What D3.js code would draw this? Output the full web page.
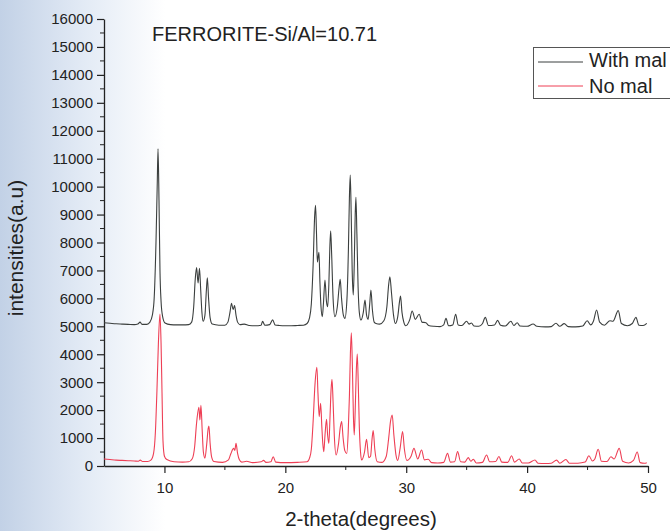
<!DOCTYPE html>
<html>
<head>
<meta charset="utf-8">
<script src="https://cdn.jsdelivr.net/npm/d3@7"></script>
<style>
  body { margin: 0; background: #fff; }
  svg { display: block; font-family: "Liberation Sans", Arial, sans-serif; }
</style>
</head>
<body>
<svg id="chart" width="670" height="531"></svg>
<script>
// [2-theta, intensity]
const withMal = [[5.0,5130],[5.5,5110],[6.0,5090],[6.5,5080],[7.0,5070],[7.5,5060],[7.8,5080],[7.98,5150],[8.15,5070],[8.55,5070],[8.8,5150],[9.0,5400],[9.15,6000],[9.3,8000],[9.4,10000],[9.47,11350],[9.55,9500],[9.63,7000],[9.72,5900],[9.85,5350],[10.05,5120],[10.5,5060],[11.0,5050],[11.5,5050],[12.0,5060],[12.25,5150],[12.42,5700],[12.55,6700],[12.66,7100],[12.78,6550],[12.9,7080],[13.0,6300],[13.1,5500],[13.2,5180],[13.35,5400],[13.47,6300],[13.55,6740],[13.65,6000],[13.78,5300],[13.95,5080],[14.5,5040],[15.0,5040],[15.25,5150],[15.42,5500],[15.55,5820],[15.68,5600],[15.8,5740],[15.92,5400],[16.05,5150],[16.25,5060],[16.6,5080],[17.0,5030],[17.5,5020],[18.0,5040],[18.12,5180],[18.3,5040],[18.7,5060],[18.95,5230],[19.15,5050],[19.5,5030],[20,5020],[20.5,5020],[21.0,5030],[21.5,5040],[21.8,5100],[22.0,5300],[22.15,5800],[22.3,7200],[22.42,8900],[22.5,9330],[22.58,8300],[22.65,7300],[22.72,7500],[22.78,7650],[22.86,6600],[22.95,5700],[23.06,5345],[23.15,5800],[23.28,6660],[23.4,5900],[23.5,5700],[23.6,6500],[23.68,7800],[23.75,8420],[23.83,7600],[23.95,6000],[24.1,5345],[24.3,5700],[24.45,6400],[24.54,6680],[24.65,6000],[24.8,5400],[24.93,5285],[25.1,6000],[25.22,7800],[25.3,9600],[25.37,10415],[25.45,9000],[25.53,7000],[25.62,6120],[25.7,7200],[25.78,9000],[25.84,9615],[25.92,8300],[26.02,6400],[26.12,5500],[26.25,5225],[26.45,5500],[26.59,5940],[26.72,5400],[26.85,5250],[26.98,5800],[27.08,6300],[27.2,5600],[27.35,5150],[27.5,5100],[27.8,5080],[28.15,5200],[28.4,5700],[28.55,6500],[28.65,6775],[28.78,6200],[28.95,5400],[29.1,5100],[29.3,5350],[29.45,5900],[29.53,6085],[29.65,5500],[29.8,5150],[29.95,5020],[30.3,5250],[30.49,5547],[30.75,5250],[31.07,5430],[31.3,5150],[31.63,5130],[31.85,5030],[32.3,5000],[32.8,4990],[33.1,5050],[33.29,5285],[33.5,5020],[33.85,5050],[34.09,5430],[34.3,5050],[34.6,5030],[35.0,5180],[35.2,5080],[35.4,5120],[35.6,5010],[36.0,5000],[36.3,5090],[36.54,5320],[36.8,5030],[37.3,5050],[37.56,5213],[37.8,5040],[38.2,5010],[38.66,5180],[38.9,5030],[39.18,5130],[39.4,5010],[40.0,5000],[40.5,5082],[40.8,5000],[41.5,4980],[42.0,4990],[42.39,5107],[42.7,5000],[43.07,5095],[43.4,4990],[44.0,4980],[44.6,5010],[44.97,5200],[45.25,5050],[45.5,5200],[45.75,5583],[46.0,5150],[46.4,5040],[46.85,5200],[47.1,5180],[47.54,5560],[47.8,5100],[48.3,5020],[48.7,5100],[49.0,5320],[49.25,5040],[49.6,5030],[49.9,5107]];

const noMal = [[5.0,250],[5.5,230],[6.0,210],[6.5,200],[7.0,190],[7.5,180],[7.85,170],[8.0,210],[8.2,160],[8.6,160],[8.9,220],[9.1,450],[9.25,1200],[9.38,2700],[9.5,4400],[9.63,5440],[9.72,4400],[9.8,2600],[9.88,900],[10.0,350],[10.2,230],[10.8,150],[11.5,140],[12.0,150],[12.3,260],[12.5,700],[12.65,1500],[12.85,2100],[12.93,1645],[13.02,2170],[13.12,1300],[13.22,500],[13.35,280],[13.5,800],[13.62,1350],[13.68,1430],[13.78,800],[13.9,330],[14.1,160],[14.8,130],[15.3,220],[15.5,450],[15.72,630],[15.82,560],[15.92,810],[16.05,450],[16.2,220],[16.4,140],[16.8,170],[17.3,120],[18.0,150],[18.2,200],[18.4,130],[18.8,150],[19.0,333],[19.2,140],[20.0,120],[21.0,130],[21.8,150],[22.0,280],[22.15,600],[22.3,1600],[22.45,2900],[22.61,3530],[22.7,2600],[22.8,1765],[22.92,2245],[23.02,1400],[23.1,800],[23.18,513],[23.28,1100],[23.41,1670],[23.5,1100],[23.6,810],[23.7,1800],[23.78,2700],[23.86,3100],[23.95,2300],[24.05,1100],[24.2,393],[24.4,800],[24.55,1400],[24.66,1587],[24.78,1000],[24.92,550],[25.08,450],[25.2,1200],[25.3,2500],[25.38,4000],[25.46,4770],[25.55,3500],[25.63,1800],[25.7,1110],[25.78,2000],[25.87,3400],[25.95,4010],[26.03,3000],[26.12,1400],[26.22,500],[26.3,215],[26.55,500],[26.72,955],[26.9,300],[27.05,350],[27.18,1000],[27.27,1265],[27.4,600],[27.6,155],[28.0,130],[28.35,350],[28.55,1000],[28.7,1600],[28.84,1825],[28.98,1100],[29.15,400],[29.3,200],[29.5,650],[29.7,1230],[29.85,600],[30.05,200],[30.4,350],[30.64,630],[30.95,250],[31.27,573],[31.5,220],[31.82,240],[32.1,120],[32.6,110],[33.1,130],[33.42,453],[33.65,140],[34.0,150],[34.25,513],[34.5,150],[34.85,140],[35.13,300],[35.35,170],[35.55,240],[35.8,110],[36.3,130],[36.65,393],[36.9,150],[37.4,160],[37.67,340],[37.9,140],[38.4,130],[38.72,365],[38.95,140],[39.35,250],[39.6,110],[40.1,110],[40.65,215],[40.9,100],[41.5,90],[42.0,100],[42.44,210],[42.7,100],[43.21,230],[43.5,100],[44.2,100],[44.8,140],[45.11,365],[45.4,180],[45.6,250],[45.88,597],[46.15,170],[46.6,160],[46.93,330],[47.2,250],[47.62,630],[47.9,170],[48.4,110],[48.8,200],[49.11,500],[49.35,120],[49.7,100],[49.9,120]];

const xTicks = [10, 20, 30, 40, 50];
const yTicks = [0, 1000, 2000, 3000, 4000, 5000, 6000, 7000, 8000, 9000, 10000, 11000, 12000, 13000, 14000, 15000, 16000];
const seriesNames = ['With mal', 'No mal'];
const seriesColors = ['#3b3f3e', '#ee3f55'];

const svg = d3.select('#chart');

// scanned-page shading on the left edge
const defs = svg.append('defs');
const grad = defs.append('linearGradient').attr('id', 'shade').attr('x1', 0).attr('x2', 1).attr('y1', 0).attr('y2', 0);
grad.append('stop').attr('offset', 0).attr('stop-color', '#c2d1e6');
grad.append('stop').attr('offset', 0.5).attr('stop-color', '#e2eaf5');
grad.append('stop').attr('offset', 1).attr('stop-color', '#ffffff');
svg.append('rect').attr('width', 670).attr('height', 531).attr('fill', '#fff');
svg.append('rect').attr('width', 165).attr('height', 531).attr('fill', 'url(#shade)');

const x = d3.scaleLinear().domain([5, 50]).range([104, 648]);
const y = d3.scaleLinear().domain([0, 16000]).range([466, 19]);

// x axis: major ticks every 10, minor every 5
const xAxisG = svg.append('g').attr('transform', `translate(0,${y(0)})`);
xAxisG.call(d3.axisBottom(x).tickValues(xTicks).tickSize(7).tickSizeOuter(0).tickPadding(9));
xAxisG.append('g').selectAll('line').data([15, 25, 35, 45]).join('line')
    .attr('x1', (d) => x(d)).attr('x2', (d) => x(d)).attr('y1', 0).attr('y2', 4)
    .attr('stroke', '#222');

// y axis: major ticks every 1000, minor every 500
const yAxisG = svg.append('g').attr('transform', `translate(${x(5)},0)`);
yAxisG.call(d3.axisLeft(y).tickValues(yTicks).tickSize(7).tickSizeOuter(0).tickPadding(4).tickFormat(d3.format('d')));
yAxisG.append('g').selectAll('line').data(d3.range(500, 16000, 1000)).join('line')
    .attr('x1', -4).attr('x2', 0).attr('y1', (d) => y(d)).attr('y2', (d) => y(d))
    .attr('stroke', '#222');

svg.selectAll('.domain').attr('stroke', '#222').attr('stroke-width', 1.3);
svg.selectAll('.tick line').attr('stroke', '#222').attr('stroke-width', 1.2);
svg.selectAll('.tick text').attr('font-size', 15).attr('fill', '#222')
    .attr('font-family', '"Liberation Sans", Arial, sans-serif');

// the two patterns
const line = d3.line().x((d) => x(d[0])).y((d) => y(d[1])).curve(d3.curveMonotoneX);
[withMal, noMal].forEach((data, i) => {
  svg.append('path').datum(data)
      .attr('d', line)
      .attr('fill', 'none')
      .attr('stroke', seriesColors[i])
      .attr('stroke-width', 1.1)
      .attr('stroke-linejoin', 'round');
});

// titles
svg.append('text').attr('x', 152).attr('y', 41)
    .attr('font-size', 20).attr('fill', '#222')
    .text('FERRORITE-Si/Al=10.71');
svg.append('text').attr('x', 361).attr('y', 526)
    .attr('text-anchor', 'middle').attr('font-size', 20.5).attr('fill', '#222')
    .text('2-theta(degrees)');
svg.append('text').attr('transform', 'translate(23,248) rotate(-90)')
    .attr('text-anchor', 'middle').attr('font-size', 21).attr('fill', '#222')
    .text('intensities(a.u)');

// legend
const legend = svg.append('g');
legend.append('rect').attr('x', 533.5).attr('y', 47.5).attr('width', 140).attr('height', 51)
    .attr('fill', '#fff').attr('stroke', '#555').attr('stroke-width', 1);
seriesNames.forEach((name, i) => {
  const ly = 62 + i * 24;
  legend.append('line').attr('x1', 538).attr('x2', 583).attr('y1', ly).attr('y2', ly)
      .attr('stroke', seriesColors[i]).attr('stroke-width', 1);
  legend.append('text').attr('x', 589).attr('y', 67 + i * 26)
      .attr('font-size', 20).attr('fill', '#222').text(name);
});
</script>
</body>
</html>
